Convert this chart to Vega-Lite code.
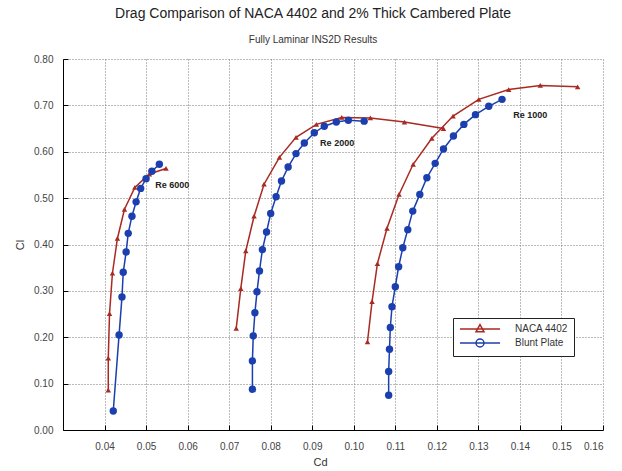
{
 "$schema": "https://vega.github.io/schema/vega-lite/v6.json",
 "width": 540, "height": 371,
 "autosize": {"type": "none"},
 "padding": {"left": 63, "top": 59, "right": 19, "bottom": 41},
 "background": "white",
 "config": {"font": "Liberation Sans", "view": {"stroke": null}},
 "title": {"text": "Drag Comparison of NACA 4402 and 2% Thick Cambered Plate", "subtitle": "Fully Laminar INS2D Results", "fontSize": 14, "fontWeight": "normal", "color": "#222", "subtitleFontSize": 10, "subtitleColor": "#333", "subtitlePadding": 14, "offset": 9, "anchor": "middle", "dx": -20},
 "layer": [
  {
   "data": {"values": [
    {"s":"NACA 4402","re":6000,"i":1,"cd":0.0409,"cl":0.086},
    {"s":"NACA 4402","re":6000,"i":2,"cd":0.0409,"cl":0.155},
    {"s":"NACA 4402","re":6000,"i":3,"cd":0.0412,"cl":0.251},
    {"s":"NACA 4402","re":6000,"i":4,"cd":0.0419,"cl":0.338},
    {"s":"NACA 4402","re":6000,"i":5,"cd":0.0431,"cl":0.413},
    {"s":"NACA 4402","re":6000,"i":6,"cd":0.0448,"cl":0.476},
    {"s":"NACA 4402","re":6000,"i":7,"cd":0.0473,"cl":0.523},
    {"s":"NACA 4402","re":6000,"i":8,"cd":0.0508,"cl":0.552},
    {"s":"NACA 4402","re":6000,"i":9,"cd":0.0548,"cl":0.564},
    {"s":"Blunt Plate","re":6000,"i":1,"cd":0.0421,"cl":0.041},
    {"s":"Blunt Plate","re":6000,"i":2,"cd":0.0435,"cl":0.205},
    {"s":"Blunt Plate","re":6000,"i":3,"cd":0.0442,"cl":0.287},
    {"s":"Blunt Plate","re":6000,"i":4,"cd":0.0445,"cl":0.340},
    {"s":"Blunt Plate","re":6000,"i":5,"cd":0.0452,"cl":0.384},
    {"s":"Blunt Plate","re":6000,"i":6,"cd":0.0457,"cl":0.424},
    {"s":"Blunt Plate","re":6000,"i":7,"cd":0.0466,"cl":0.461},
    {"s":"Blunt Plate","re":6000,"i":8,"cd":0.0476,"cl":0.492},
    {"s":"Blunt Plate","re":6000,"i":9,"cd":0.0487,"cl":0.521},
    {"s":"Blunt Plate","re":6000,"i":10,"cd":0.0500,"cl":0.542},
    {"s":"Blunt Plate","re":6000,"i":11,"cd":0.0514,"cl":0.558},
    {"s":"Blunt Plate","re":6000,"i":12,"cd":0.0532,"cl":0.573},
    {"s":"NACA 4402","re":2000,"i":1,"cd":0.0717,"cl":0.219},
    {"s":"NACA 4402","re":2000,"i":2,"cd":0.0728,"cl":0.305},
    {"s":"NACA 4402","re":2000,"i":3,"cd":0.0740,"cl":0.386},
    {"s":"NACA 4402","re":2000,"i":4,"cd":0.0760,"cl":0.461},
    {"s":"NACA 4402","re":2000,"i":5,"cd":0.0784,"cl":0.530},
    {"s":"NACA 4402","re":2000,"i":6,"cd":0.0821,"cl":0.588},
    {"s":"NACA 4402","re":2000,"i":7,"cd":0.0861,"cl":0.631},
    {"s":"NACA 4402","re":2000,"i":8,"cd":0.0910,"cl":0.659},
    {"s":"NACA 4402","re":2000,"i":9,"cd":0.0971,"cl":0.674},
    {"s":"NACA 4402","re":2000,"i":10,"cd":0.1040,"cl":0.673},
    {"s":"NACA 4402","re":2000,"i":11,"cd":0.1122,"cl":0.664},
    {"s":"NACA 4402","re":2000,"i":12,"cd":0.1216,"cl":0.650},
    {"s":"Blunt Plate","re":2000,"i":1,"cd":0.0756,"cl":0.088},
    {"s":"Blunt Plate","re":2000,"i":2,"cd":0.0756,"cl":0.149},
    {"s":"Blunt Plate","re":2000,"i":3,"cd":0.0758,"cl":0.203},
    {"s":"Blunt Plate","re":2000,"i":4,"cd":0.0762,"cl":0.253},
    {"s":"Blunt Plate","re":2000,"i":5,"cd":0.0767,"cl":0.298},
    {"s":"Blunt Plate","re":2000,"i":6,"cd":0.0773,"cl":0.343},
    {"s":"Blunt Plate","re":2000,"i":7,"cd":0.0780,"cl":0.389},
    {"s":"Blunt Plate","re":2000,"i":8,"cd":0.0790,"cl":0.427},
    {"s":"Blunt Plate","re":2000,"i":9,"cd":0.0800,"cl":0.467},
    {"s":"Blunt Plate","re":2000,"i":10,"cd":0.0813,"cl":0.503},
    {"s":"Blunt Plate","re":2000,"i":11,"cd":0.0826,"cl":0.537},
    {"s":"Blunt Plate","re":2000,"i":12,"cd":0.0842,"cl":0.567},
    {"s":"Blunt Plate","re":2000,"i":13,"cd":0.0861,"cl":0.596},
    {"s":"Blunt Plate","re":2000,"i":14,"cd":0.0881,"cl":0.619},
    {"s":"Blunt Plate","re":2000,"i":15,"cd":0.0905,"cl":0.641},
    {"s":"Blunt Plate","re":2000,"i":16,"cd":0.0929,"cl":0.655},
    {"s":"Blunt Plate","re":2000,"i":17,"cd":0.0958,"cl":0.664},
    {"s":"Blunt Plate","re":2000,"i":18,"cd":0.0987,"cl":0.668},
    {"s":"Blunt Plate","re":2000,"i":19,"cd":0.1025,"cl":0.666},
    {"s":"NACA 4402","re":1000,"i":1,"cd":0.1033,"cl":0.190},
    {"s":"NACA 4402","re":1000,"i":2,"cd":0.1044,"cl":0.277},
    {"s":"NACA 4402","re":1000,"i":3,"cd":0.1057,"cl":0.359},
    {"s":"NACA 4402","re":1000,"i":4,"cd":0.1080,"cl":0.435},
    {"s":"NACA 4402","re":1000,"i":5,"cd":0.1109,"cl":0.508},
    {"s":"NACA 4402","re":1000,"i":6,"cd":0.1143,"cl":0.573},
    {"s":"NACA 4402","re":1000,"i":7,"cd":0.1188,"cl":0.629},
    {"s":"NACA 4402","re":1000,"i":8,"cd":0.1239,"cl":0.677},
    {"s":"NACA 4402","re":1000,"i":9,"cd":0.1301,"cl":0.713},
    {"s":"NACA 4402","re":1000,"i":10,"cd":0.1373,"cl":0.734},
    {"s":"NACA 4402","re":1000,"i":11,"cd":0.1449,"cl":0.743},
    {"s":"NACA 4402","re":1000,"i":12,"cd":0.1539,"cl":0.740},
    {"s":"Blunt Plate","re":1000,"i":1,"cd":0.1084,"cl":0.075},
    {"s":"Blunt Plate","re":1000,"i":2,"cd":0.1084,"cl":0.126},
    {"s":"Blunt Plate","re":1000,"i":3,"cd":0.1086,"cl":0.174},
    {"s":"Blunt Plate","re":1000,"i":4,"cd":0.1088,"cl":0.221},
    {"s":"Blunt Plate","re":1000,"i":5,"cd":0.1092,"cl":0.266},
    {"s":"Blunt Plate","re":1000,"i":6,"cd":0.1100,"cl":0.309},
    {"s":"Blunt Plate","re":1000,"i":7,"cd":0.1108,"cl":0.352},
    {"s":"Blunt Plate","re":1000,"i":8,"cd":0.1118,"cl":0.393},
    {"s":"Blunt Plate","re":1000,"i":9,"cd":0.1130,"cl":0.432},
    {"s":"Blunt Plate","re":1000,"i":10,"cd":0.1142,"cl":0.472},
    {"s":"Blunt Plate","re":1000,"i":11,"cd":0.1159,"cl":0.508},
    {"s":"Blunt Plate","re":1000,"i":12,"cd":0.1176,"cl":0.544},
    {"s":"Blunt Plate","re":1000,"i":13,"cd":0.1196,"cl":0.575},
    {"s":"Blunt Plate","re":1000,"i":14,"cd":0.1216,"cl":0.606},
    {"s":"Blunt Plate","re":1000,"i":15,"cd":0.1240,"cl":0.634},
    {"s":"Blunt Plate","re":1000,"i":16,"cd":0.1265,"cl":0.659},
    {"s":"Blunt Plate","re":1000,"i":17,"cd":0.1293,"cl":0.680},
    {"s":"Blunt Plate","re":1000,"i":18,"cd":0.1325,"cl":0.698},
    {"s":"Blunt Plate","re":1000,"i":19,"cd":0.1357,"cl":0.713}
   ]},
   "encoding": {
    "x": {"field": "cd", "type": "quantitative", "scale": {"domain": [0.03, 0.16], "nice": false, "zero": false},
          "axis": {"title": "Cd", "values": [0.04,0.05,0.06,0.07,0.08,0.09,0.10,0.11,0.12,0.13,0.14,0.15,0.16], "format": ".2f", "grid": true, "gridDash": [1,2], "gridColor": "#777", "tickSize": -5, "labelPadding": 16, "domainColor": "#000", "tickColor": "#000", "labelColor": "#444", "labelFontSize": 10, "labelFont": "Liberation Sans", "titleFont": "Liberation Sans", "titleFontSize": 11, "titleFontWeight": "normal", "titleColor": "#333", "titlePadding": 5, "titleX": 257}},
    "y": {"field": "cl", "type": "quantitative", "scale": {"domain": [0, 0.8], "nice": false},
          "axis": {"title": "Cl", "values": [0,0.1,0.2,0.3,0.4,0.5,0.6,0.7,0.8], "format": ".2f", "grid": true, "gridDash": [1,2], "gridColor": "#777", "tickSize": -5, "labelPadding": 15, "domainColor": "#000", "tickColor": "#000", "labelColor": "#444", "labelFontSize": 10, "labelFont": "Liberation Sans", "titleFont": "Liberation Sans", "titleFontSize": 11, "titleFontWeight": "normal", "titleColor": "#333", "titlePadding": 8}},
    "color": {"field": "s", "type": "nominal", "scale": {"domain": ["NACA 4402", "Blunt Plate"], "range": ["#a82a22", "#1b3fae"]},
              "legend": {"orient": "none", "legendX": 390, "legendY": 259, "title": null, "strokeColor": "#222", "fillColor": "white", "padding": 6, "symbolSize": 64, "symbolOffset": 16, "labelOffset": 30, "labelFontSize": 10, "labelColor": "#333", "labelFont": "Liberation Sans", "rowPadding": 1, "symbolOpacity": 1, "symbolStrokeWidth": 1.5}}
   },
   "layer": [
    {"mark": {"type": "point", "filled": true, "opacity": 0, "strokeWidth": 1.5}, "encoding": {
      "shape": {"field": "s", "type": "nominal", "scale": {"domain": ["NACA 4402", "Blunt Plate"], "range": ["M-5,0L5,0M0,-1.1L1,0.7L-1,0.7Z", "M-5,0L5,0M-1,0A1,1 0 1,0 1,0A1,1 0 1,0 -1,0Z"]}},
      "fill": {"field": "s", "type": "nominal", "scale": {"domain": ["NACA 4402", "Blunt Plate"], "range": ["#a82a22", "#1b3fae"]}},
      "stroke": {"field": "s", "type": "nominal", "scale": {"domain": ["NACA 4402", "Blunt Plate"], "range": ["#a82a22", "#1b3fae"]}}}},
    {"mark": {"type": "line", "strokeWidth": 1.5}, "encoding": {"detail": {"field": "re"}, "order": {"field": "i", "type": "quantitative"}}},
    {"transform": [{"filter": "datum.s === 'NACA 4402'"}], "mark": {"type": "point", "filled": true, "opacity": 1, "shape": "triangle-up", "size": 30}},
    {"transform": [{"filter": "datum.s === 'Blunt Plate'"}], "mark": {"type": "point", "filled": true, "opacity": 1, "shape": "circle", "size": 55}}
   ]
  },
  {
   "data": {"values": [
    {"label": "Re 6000", "cd": 0.0522, "cl": 0.528},
    {"label": "Re 2000", "cd": 0.0919, "cl": 0.619},
    {"label": "Re 1000", "cd": 0.1384, "cl": 0.679}
   ]},
   "mark": {"type": "text", "align": "left", "baseline": "middle", "fontSize": 9, "fontWeight": "bold", "color": "#222"},
   "encoding": {
    "x": {"field": "cd", "type": "quantitative"},
    "y": {"field": "cl", "type": "quantitative"},
    "text": {"field": "label"}
   }
  }
 ]
}
